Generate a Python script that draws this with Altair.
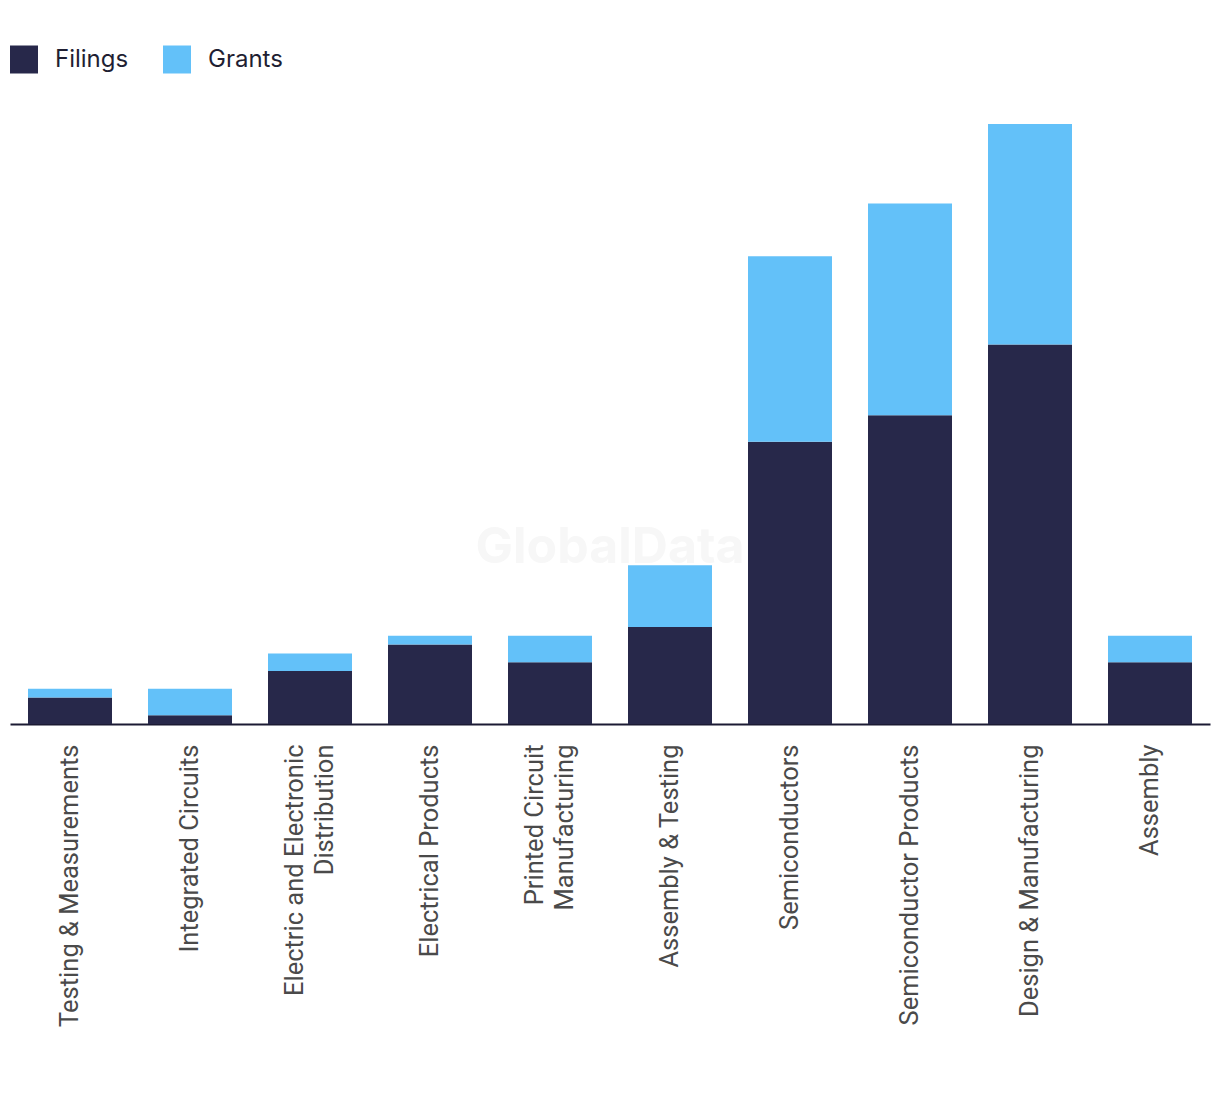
import altair as alt
import pandas as pd

categories = [
    "Testing & Measurements",
    "Integrated Circuits",
    "Electric and Electronic\nDistribution",
    "Electrical Products",
    "Printed Circuit\nManufacturing",
    "Assembly & Testing",
    "Semiconductors",
    "Semiconductor Products",
    "Design & Manufacturing",
    "Assembly",
]
filings = [3, 1, 6, 9, 7, 11, 32, 35, 43, 7]
grants = [1, 3, 2, 1, 3, 7, 21, 24, 25, 3]
series = ["Filings", "Grants"]
colors = ["#27284A", "#63C1F9"]

rows = []
for c, f, g in zip(categories, filings, grants):
    rows.append({"category": c, "series": "Filings", "value": f})
    rows.append({"category": c, "series": "Grants", "value": g})
df = pd.DataFrame(rows)

bars = alt.Chart(df).mark_bar().encode(
    x=alt.X(
        "category:N",
        sort=categories,
        scale=alt.Scale(paddingInner=0.3, paddingOuter=0.15),
        axis=alt.Axis(
            title=None,
            labelAngle=-90,
            labelAlign="right",
            labelBaseline="middle",
            labelPadding=20,
            labelFont="Roboto",
            labelFontSize=25.5,
            labelColor="#4a4a4a",
            labelLineHeight=30,
            labelExpr="split(datum.label, '\\n')",
            labelOffset={
                "condition": {"test": "indexof(datum.value, '\\n') >= 0", "value": -15},
                "value": 0,
            },
            labelLimit=0,
            ticks=False,
            domainColor="#1b1a33",
            domainWidth=2,
            grid=False,
        ),
    ),
    y=alt.Y(
        "value:Q",
        stack="zero",
        scale=alt.Scale(domain=[0, 68], nice=False, zero=True),
        axis=None,
    ),
    color=alt.Color(
        "series:N",
        scale=alt.Scale(domain=series, range=colors),
        legend=alt.Legend(
            title=None,
            orient="none",
            direction="horizontal",
            legendX=0,
            legendY=-78.5,
            symbolType="square",
            symbolSize=784,
            symbolStrokeWidth=0,
            symbolOpacity=1,
            labelFont="Inter",
            labelFontSize=24,
            labelColor="#1f1f33",
            labelOffset=17,
            columnPadding=34,
            padding=0,
        ),
    ),
    order=alt.Order("series:N"),
)

watermark = alt.Chart(pd.DataFrame({"t": ["GlobalData"]})).mark_text(
    font="Inter", fontSize=50, fontWeight="bold", color="#f7f7f7"
).encode(text="t:N", x=alt.value(600), y=alt.value(424))

chart = alt.layer(watermark, bars).properties(
    width=1200,
    height=600,
    autosize="none",
    background="white",
    padding={"left": 2, "top": 116, "right": 2, "bottom": 340},
).configure_view(stroke=None)

chart.save("out.html", embed_options={"renderer": "svg", "actions": False})
